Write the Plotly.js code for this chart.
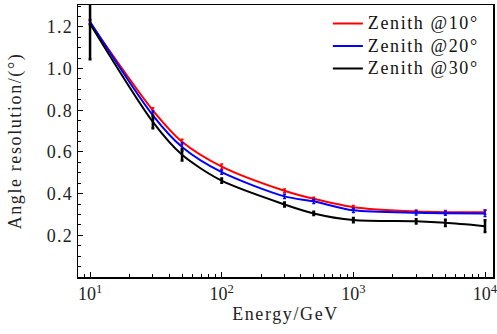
<!DOCTYPE html>
<html>
<head>
<meta charset="utf-8">
<script src="https://cdn.plot.ly/plotly-3.0.1.min.js"></script>
<style>
body{margin:0;padding:0;background:#fff;}
#chart{width:497px;height:334px;}
.legendtext{font-size:18px !important;letter-spacing:1.6px;}
.ytick text{letter-spacing:1.2px;}
.g-xtitle text,.g-ytitle text{letter-spacing:1.6px;}
</style>
</head>
<body>
<div id="chart"></div>
<script>
const energy = [10, 30, 50, 100, 300, 500, 1000, 3000, 5000, 10000];
const zen10 = [1.22, 0.80, 0.649, 0.530, 0.414, 0.375, 0.335, 0.314, 0.311, 0.311];
const zen10Err = [0.01, 0.012, 0.012, 0.012, 0.008, 0.008, 0.008, 0.008, 0.008, 0.01];
const zen20 = [1.225, 0.776, 0.624, 0.503, 0.387, 0.363, 0.320, 0.308, 0.306, 0.305];
const zen20Err = [0.01, 0.02, 0.02, 0.01, 0.01, 0.01, 0.01, 0.01, 0.01, 0.015];
const zen30 = [1.215, 0.744, 0.586, 0.462, 0.348, 0.305, 0.273, 0.267, 0.260, 0.244];
const zen30Err = [0.17, 0.03, 0.027, 0.01, 0.01, 0.008, 0.01, 0.01, 0.015, 0.028];
const names = ['Zenith @10°', 'Zenith @20°', 'Zenith @30°'];
const colors = ['#ff0000', '#0000ff', '#000000'];
const xTickVals = [10, 100, 1000, 10000];
const xTickText = ['10<sup>1</sup>', '10<sup>2</sup>', '10<sup>3</sup>', '10<sup>4</sup>'];
const xMinorVals = [9, 20, 30, 40, 50, 60, 70, 80, 90, 200, 300, 400, 500, 600, 700, 800, 900,
                    2000, 3000, 4000, 5000, 6000, 7000, 8000, 9000];
const yTickVals = [0.2, 0.4, 0.6, 0.8, 1.0, 1.2];
const yTickText = ['0.2', '0.4', '0.6', '0.8', '1.0', '1.2'];

const font = "Liberation Serif";
function mk(y, err, i, th) {
  return {
    x: energy, y: y, name: names[i], type: 'scatter', mode: 'lines',
    line: {color: colors[i], width: 2, shape: 'spline', smoothing: 0.8},
    error_y: {type: 'data', array: err, visible: true, color: colors[i], thickness: th, width: 1.5}
  };
}
const data = [mk(zen10, zen10Err, 0, 1.5), mk(zen20, zen20Err, 1, 1.5), mk(zen30, zen30Err, 2, 2.5)];
const layout = {
  width: 497, height: 334,
  margin: {l: 78, r: 4, t: 5, b: 57},
  paper_bgcolor: '#fff', plot_bgcolor: '#fff',
  font: {family: font, size: 18, color: '#222'},
  showlegend: true,
  legend: {x: 0.978, xanchor: 'right', y: 0.992, yanchor: 'top', bgcolor: 'rgba(0,0,0,0)',
           font: {family: font, size: 15, color: '#111'}, tracegroupgap: 0},
  xaxis: {
    type: 'log', range: [Math.log10(8.1), Math.log10(11500)],
    tickmode: 'array', tickvals: xTickVals, ticktext: xTickText, ticklabeloverflow: 'allow',
    showline: true, linecolor: '#000', linewidth: 1.5, mirror: true,
    ticks: 'inside', ticklen: 5, tickcolor: '#000', tickwidth: 1,
    minor: {ticks: 'inside', ticklen: 3, tickmode: 'array', tickvals: xMinorVals, tickcolor: '#000', tickwidth: 1},
    showgrid: false, zeroline: false,
    tickfont: {family: font, size: 18, color: '#222'},
    title: {text: 'Energy/GeV', font: {family: font, size: 18, color: '#222'}, standoff: 4}
  },
  yaxis: {
    range: [0, 1.305],
    tickmode: 'array', tickvals: yTickVals, ticktext: yTickText,
    showline: true, linecolor: '#000', linewidth: 1.5, mirror: true,
    ticks: 'inside', ticklen: 5, tickcolor: '#000', tickwidth: 1,
    minor: {ticks: 'inside', ticklen: 3, tick0: 0, dtick: 0.05, tickcolor: '#000', tickwidth: 1},
    showgrid: false, zeroline: false,
    tickfont: {family: font, size: 18, color: '#222'},
    title: {text: 'Angle resolution/(°)', font: {family: font, size: 18, color: '#222'}, standoff: 20}
  }
};
Plotly.newPlot('chart', data, layout, {staticPlot: true, displayModeBar: false});
</script>
</body>
</html>
